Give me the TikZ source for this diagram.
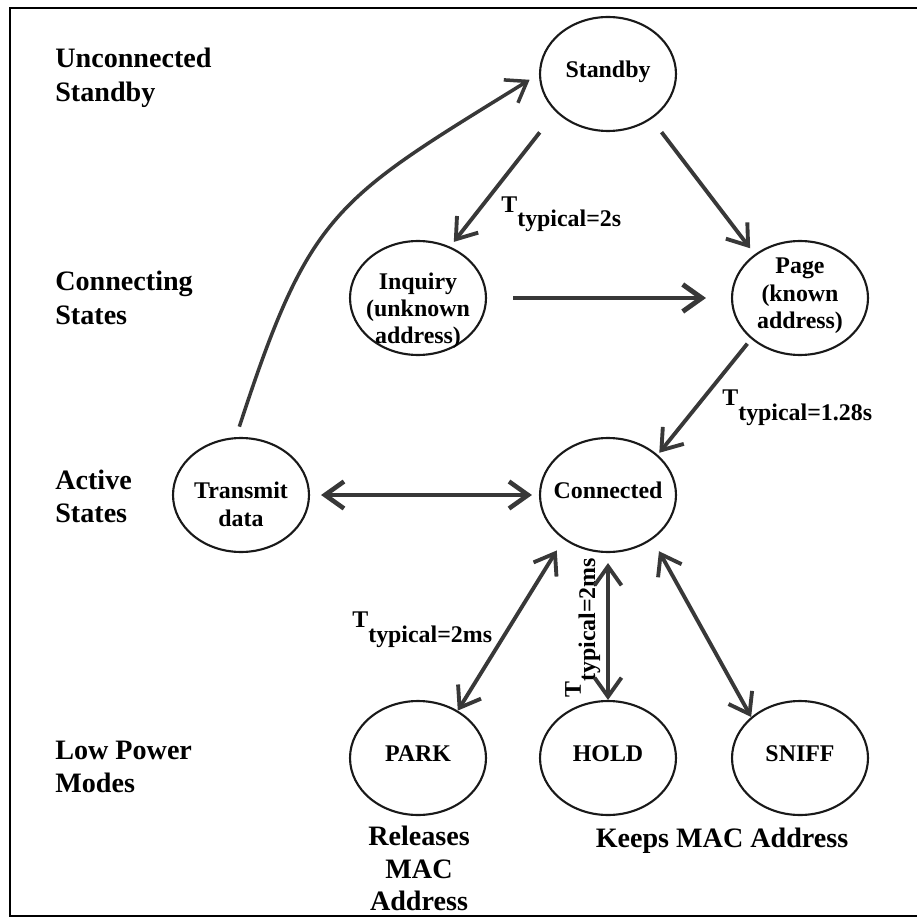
\documentclass[tikz,border=0pt]{standalone}
\usepackage{fontspec}
\setmainfont{Liberation Serif}
\usetikzlibrary{shapes.geometric,arrows.meta}
\definecolor{linegray}{HTML}{383838}
\newcommand{\stxt}[2][-2.2pt]{\makebox[0pt]{\smash{\raisebox{#1}{\begin{tabular}{@{}c@{}}#2\end{tabular}}}}}
\newcommand{\ttyp}[1]{\raisebox{8pt}{T}typical=#1}
\begin{document}
\begin{tikzpicture}[x=0.02cm,y=-0.02cm]
            \tikzstyle{every node}+=[inner sep=0pt]
            \tikzstyle{state}=[draw=black!90, line width=1.2pt, ellipse, minimum width=2.72cm, minimum height=2.28cm, font=\fontsize{13.6}{15.6}\selectfont\bfseries]
            \tikzstyle{side}=[anchor=base west, font=\fontsize{16}{19.2}\selectfont\bfseries]
            \tikzstyle{timing}=[anchor=base west, font=\fontsize{13.6}{15.6}\selectfont\bfseries]
            \tikzstyle{link}=[linegray, line width=2.2pt, -{Straight Barb[length=0.38cm,width=0.54cm]}]
            \tikzstyle{both}=[link, {Straight Barb[length=0.38cm,width=0.54cm]}-{Straight Barb[length=0.38cm,width=0.54cm]}]
                \useasboundingbox (0,0) rectangle (916,918);
                \draw [black, line width=1.5pt] (10,8) rectangle (940,916);
                % states
                \node[state] (standby) at (608,74) {\stxt{Standby}};
                \node[state] (inquiry) at (418,298) {\stxt[-11pt]{Inquiry\\(unknown\\address)}};
                \node[state] (page) at (800,298) {\stxt{Page\\(known\\address)}};
                \node[state] (transmit) at (241,495) {\stxt[-10.5pt]{Transmit\\data}};
                \node[state] (connected) at (608,495) {\stxt{Connected}};
                \node[state] (park) at (418,758) {\stxt{PARK}};
                \node[state] (hold) at (608,758) {\stxt{HOLD}};
                \node[state] (sniff) at (800,758) {\stxt{SNIFF}};
                % row captions
                \node[side] (cunconn) at (55,68) {\begin{tabular}[t]{@{}l@{}}Unconnected\\Standby\end{tabular}};
                \node[side] (cconn) at (55,291) {\begin{tabular}[t]{@{}l@{}}Connecting\\States\end{tabular}};
                \node[side] (cactive) at (55,489) {\begin{tabular}[t]{@{}l@{}}Active\\States\end{tabular}};
                \node[side] (clow) at (55,759) {\begin{tabular}[t]{@{}l@{}}Low Power\\Modes\end{tabular}};
                \node[side, anchor=south, align=center, font=\fontsize{16}{18.4}\selectfont\bfseries] (crelease) at (419,911) {Releases\\MAC\\Address};
                \node[side, anchor=base] (ckeep) at (722,847) {Keeps MAC Address};
                % timings
                \node[timing] (tinq) at (501,227) {\ttyp{2s}};
                \node[timing] (tpage) at (722,420) {\ttyp{1.28s}};
                \node[timing] (tpark) at (352,642) {\ttyp{2ms}};
                \node[timing, rotate=90] (thold) at (595,698) {\ttyp{2ms}};
                % transitions
                \draw [link, shorten <=0.52cm, shorten >=0.12cm] (standby.216) -- (inquiry.58);
                \draw [link, shorten <=0.33cm, shorten >=0.15cm] (standby.314) -- (page.136.5);
                \draw [link, line width=2.8pt, shorten <=0.52cm, shorten >=0.5cm] (inquiry) -- (page);
                \draw [link, shorten <=0.12cm, shorten >=0.05cm] (page.220) -- (connected.39.6);
                \draw [both, line width=2.6pt, shorten <=0.22cm, shorten >=0.14cm] (transmit) -- (connected);
                \draw [link, line width=2pt, shorten <=0.22cm, shorten >=0.22cm] (transmit.95) .. controls (310,210) and (335,200) .. (standby.west);
                \draw [both, shorten <=0.26cm] (connected.225.5) -- (park.50);
                \draw [both, shorten <=0.2cm] (connected.south) -- (hold.north);
                \draw [both, shorten <=0.27cm] (connected.315.8) -- (sniff.140);
            \end{tikzpicture}
\end{document}
